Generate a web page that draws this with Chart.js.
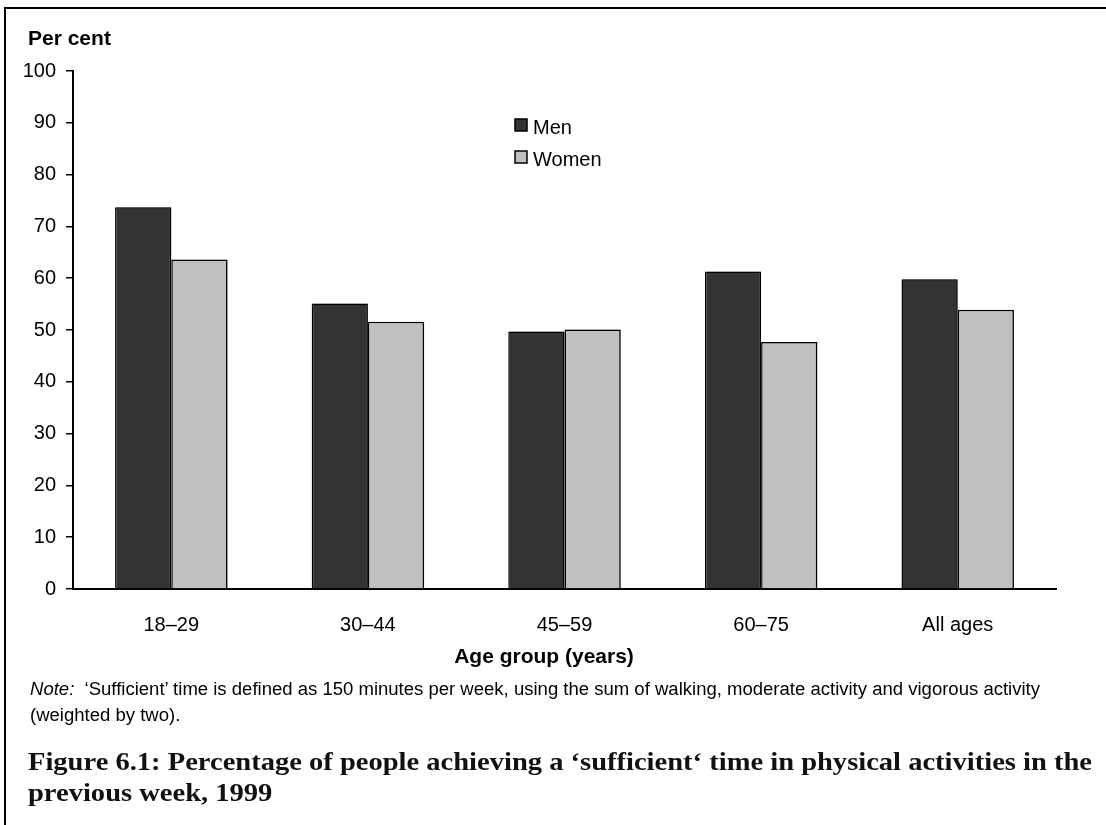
<!DOCTYPE html>
<html>
<head>
<meta charset="utf-8">
<script src="https://cdn.jsdelivr.net/npm/chart.js@4.4.0/dist/chart.umd.min.js"></script>
<style>
  html, body { margin: 0; padding: 0; background: #fff; width: 1106px; height: 825px; overflow: hidden; }
  #wrap { position: relative; width: 1106px; height: 825px; }
  #frame { position: absolute; left: 4px; top: 7px; right: -10px; bottom: -10px;
           border-top: 2px solid #000; border-left: 2px solid #000; }
  canvas { position: absolute; left: 0; top: 0; }
  .note { position: absolute; left: 30px; font-family: "Liberation Sans", Arial, sans-serif;
          font-size: 18px; line-height: 18px; color: #000; white-space: nowrap; transform-origin: 0 0; }
  .caption { position: absolute; left: 28px; font-family: "Liberation Serif", "Times New Roman", serif;
             font-weight: bold; font-size: 25px; line-height: 25px; color: #111; white-space: nowrap; transform-origin: 0 0; }
</style>
</head>
<body>
<div id="wrap">
  <div id="frame"></div>
  <canvas id="chart" width="1106" height="825"></canvas>
  <div class="note" id="note1" style="top:680px"><i>Note:</i>&nbsp; ‘Sufficient’ time is defined as 150 minutes per week, using the sum of walking, moderate activity and vigorous activity</div>
  <div class="note" id="note2" style="top:706px">(weighted by two).</div>
  <div class="caption" id="cap1" style="top:749px">Figure 6.1: Percentage of people achieving a ‘sufficient‘ time in physical activities in the</div>
  <div class="caption" id="cap2" style="top:780px">previous week, 1999</div>
</div>
<script>
// Age groups along the x axis
const ageGroups = ['18–29', '30–44', '45–59', '60–75', 'All ages'];
// Share of each group achieving sufficient activity time (%)
const menPct = [73.7, 55.1, 49.7, 61.3, 59.8];
const womenPct = [63.6, 51.6, 50.1, 47.7, 53.9];
// Value axis range and step
const yMin = 0;
const yMax = 100;
const yStep = 10;

const seriesNames = ['Men', 'Women'];
const seriesColors = ['#333333', '#c0c0c0'];

const SANS = '"Liberation Sans", Arial, sans-serif';

// Fixed chart-area geometry
const AREA = { left: 73, right: 1056, top: 71, bottom: 589 };

// Stretch the note and caption text blocks so each first line reaches its right edge
function stretch(firstId, otherId, rightEdge) {
  const a = document.getElementById(firstId);
  const b = document.getElementById(otherId);
  const r = a.getBoundingClientRect();
  const k = (rightEdge - r.left) / r.width;
  a.style.transform = 'scaleX(' + k + ')';
  b.style.transform = 'scaleX(' + k + ')';
}
stretch('note1', 'note2', 1040);
stretch('cap1', 'cap2', 1092);

// Draws the "Per cent" heading, x-axis title and the in-plot legend
const annotations = {
  id: 'annotations',
  beforeDatasetsDraw(chart) {
    const ctx = chart.ctx;
    ctx.save();
    ctx.shadowColor = 'rgba(0,0,0,0.35)';
    ctx.shadowOffsetX = 2;
    ctx.shadowOffsetY = 0;
    ctx.shadowBlur = 0;
  },
  afterDatasetsDraw(chart) {
    chart.ctx.restore();
  },
  afterDraw(chart) {
    const ctx = chart.ctx;
    ctx.save();
    ctx.fillStyle = '#000';
    ctx.textBaseline = 'alphabetic';

    ctx.font = 'bold 21px ' + SANS;
    ctx.textAlign = 'left';
    ctx.fillText('Per cent', 28, 45);

    ctx.font = 'bold 21px ' + SANS;
    ctx.textAlign = 'center';
    ctx.fillText('Age group (years)', 544, 663);

    // legend
    ctx.font = '20px ' + SANS;
    ctx.textAlign = 'left';
    ctx.textBaseline = 'middle';
    chart.data.datasets.forEach((ds, i) => {
      const y = 125 + i * 32;
      ctx.fillStyle = ds.backgroundColor;
      ctx.fillRect(515, y - 6, 12, 12);
      ctx.strokeStyle = '#000';
      ctx.lineWidth = 1.5;
      ctx.strokeRect(515, y - 6, 12, 12);
      ctx.fillStyle = '#000';
      ctx.fillText(ds.label, 533, y + 3);
    });
    ctx.restore();
  }
};

new Chart(document.getElementById('chart'), {
  type: 'bar',
  data: {
    labels: ageGroups,
    datasets: [
      { label: seriesNames[0], data: menPct, backgroundColor: seriesColors[0] },
      { label: seriesNames[1], data: womenPct, backgroundColor: seriesColors[1] }
    ]
  },
  options: {
    responsive: false,
    devicePixelRatio: 1,
    animation: false,
    layout: { padding: { left: 0, top: AREA.top, right: 1106 - AREA.right, bottom: 0 } },
    datasets: {
      bar: {
        categoryPercentage: 0.572,
        barPercentage: 1.0,
        borderColor: '#000',
        borderWidth: 1.5
      }
    },
    plugins: {
      legend: { display: false },
      tooltip: { enabled: false },
      title: { display: false }
    },
    scales: {
      x: {
        grid: { display: false },
        border: { display: true, color: '#000', width: 2 },
        ticks: { color: '#000', font: { family: SANS, size: 20 }, padding: 16, maxRotation: 0 },
        afterFit(scale) { scale.height = 825 - AREA.bottom; }
      },
      y: {
        min: yMin,
        max: yMax,
        grid: { drawOnChartArea: false, color: '#000', lineWidth: 1.5, tickLength: 7 },
        border: { display: true, color: '#000', width: 2 },
        ticks: { stepSize: yStep, color: '#000', font: { family: SANS, size: 20 }, padding: 10 },
        afterFit(scale) { scale.width = AREA.left; }
      }
    }
  },
  plugins: [annotations]
});
</script>
</body>
</html>
